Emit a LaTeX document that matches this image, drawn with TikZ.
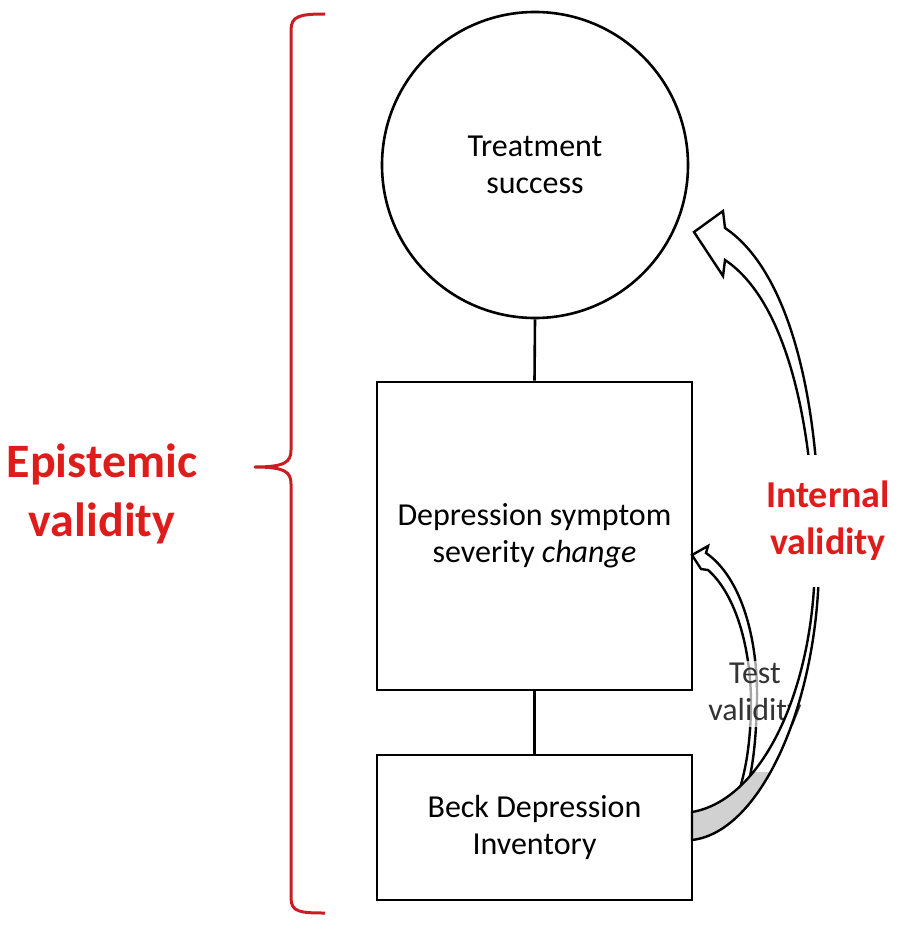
\documentclass[tikz,border=0pt]{standalone}
\usepackage{fontspec}
\setmainfont{Carlito}
\definecolor{valred}{RGB}{222,28,28}
\definecolor{bracered}{RGB}{200,30,35}
\begin{document}
\begin{tikzpicture}[x=1pt,y=-1pt,
  boxstyle/.style={draw=black, line width=2.6pt, fill=white, inner sep=0pt},
  bodytext/.style={font=\fontsize{32}{37}\selectfont, align=center},
  redlabel/.style={text=valred, font=\bfseries\fontsize{48}{59}\selectfont, align=center},
  band/.style={draw=black, line width=2.4pt, line join=miter, fill=white},
  connector/.style={draw=black, line width=2.6pt},
]
\useasboundingbox (0,0) rectangle (900,939);

% nodes
\node[boxstyle, circle, minimum size=306pt, bodytext] (ts) at (535,165) {Treatment\\success};
\node[boxstyle, minimum width=315pt, minimum height=308pt, bodytext] (dss) at (534.5,536) {Depression symptom\\severity \textit{change}};
\node[boxstyle, minimum width=315pt, minimum height=145pt, bodytext] (bdi) at (534.5,827.5) {Beck Depression\\Inventory};
\draw[connector] (ts.south) -- (dss.north);
\draw[connector] (dss.south) -- (bdi.north);

% brace
\draw[bracered, line width=3pt, line join=round]
  (325,14) .. controls (300,14) and (291,16) .. (291,30) -- (291,450)
  .. controls (291,462) and (285,467) .. (255,467)
  .. controls (285,467) and (291,472) .. (291,484) -- (291,898)
  .. controls (291,912) and (300,913) .. (325,913);
\node[redlabel] (ev) at (102,493.5) {Epistemic\\validity};

% small arrow (test validity)
\path[band] (706,553) .. controls (742,578) and (758,640) .. (757,700)
  .. controls (756,750) and (751,780) .. (743,800)
  -- (736,800)
  .. controls (744,778) and (751,748) .. (751,700)
  .. controls (750,640) and (733,592) .. (708,570)
  -- (701,569) -- (692,555) -- (708,546) -- cycle;
\node[bodytext, text=black!80, fill=white, fill opacity=0.65, text opacity=1, inner sep=2pt] (tv) at (755,694) {Test\\validity};

% big arrow (internal validity)
\def\bigarrow{(692,840) .. controls (762,832) and (819,700) .. (819,560)
  .. controls (822,420) and (795,275) .. (725,228)
  -- (723,211) -- (694,232) -- (723,276) -- (725,260)
  .. controls (785,300) and (814,420) .. (815,560)
  .. controls (814,690) and (762,800) .. (692,812) -- cycle}
\fill[white] \bigarrow;
\begin{scope}
  \clip \bigarrow;
  \fill[black!18] (680,772) rectangle (840,860);
\end{scope}
\draw[black, line width=2.4pt, line join=miter] \bigarrow;
\node[redlabel, font=\bfseries\fontsize{38}{47}\selectfont, fill=white, inner xsep=2pt, inner ysep=26pt] (iv) at (828,521) {Internal\\validity};
\end{tikzpicture}
\end{document}
